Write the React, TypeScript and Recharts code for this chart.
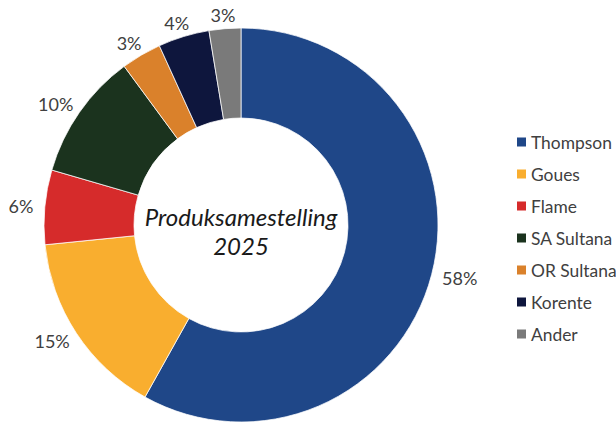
import { PieChart, Pie, Cell } from "recharts";

const cultivars = ["Thompson", "Goues", "Flame", "SA Sultana", "OR Sultana", "Korente", "Ander"];
const shares = [58.1, 15.3, 6.1, 10.4, 3.3, 4.2, 2.6];
const percentLabels = ["58%", "15%", "6%", "10%", "3%", "4%", "3%"];
const colors = ["#1F4788", "#F9AE2F", "#D62B2B", "#1B331E", "#DA812B", "#0E163D", "#7A7A7A"];

const data = cultivars.map((name, i) => ({ name, value: shares[i], label: percentLabels[i] }));

const RADIAN = Math.PI / 180;
const FONT = "Lato, 'Noto Sans', sans-serif";

const renderLabel = (props: any) => {
  const { cx, cy, midAngle, outerRadius, index } = props;
  const text = percentLabels[index];
  const ux = Math.cos(-midAngle * RADIAN);
  const uy = Math.sin(-midAngle * RADIAN);
  const r = outerRadius + 14;
  const w = text.length * 10;
  const x = cx + r * ux + (ux * w) / 2;
  const y = cy + r * uy;
  return (
    <text
      x={x}
      y={y}
      textAnchor="middle"
      dominantBaseline="central"
      fill="#404040"
      fontSize={18}
      fontFamily={FONT}
    >
      {text}
    </text>
  );
};

// legend drawn in the svg, so it is cut by the chart's own right edge
const legendX = 517;
const legendY = 142;
const legendStep = 32;

export default function App() {
  return (
    <div style={{ position: "relative", width: 616, height: 427, overflow: "hidden" }}>
      <style>{`html, body { margin: 0; padding: 0; overflow: hidden; }`}</style>
      <PieChart width={616} height={427} margin={{ top: 0, right: 0, bottom: 0, left: 0 }}>
        <Pie
          data={data}
          dataKey="value"
          nameKey="name"
          cx={241}
          cy={225}
          innerRadius={107}
          outerRadius={197}
          startAngle={90}
          endAngle={-270}
          stroke="#ffffff"
          strokeWidth={0.75}
          label={renderLabel}
          labelLine={false}
          isAnimationActive={false}
        >
          {data.map((d, i) => (
            <Cell key={d.name} fill={colors[i]} />
          ))}
        </Pie>
        <text
          x={241}
          y={226}
          textAnchor="middle"
          fontSize={24}
          fontStyle="italic"
          fontFamily={FONT}
          fill="#1a1a1a"
        >
          Produksamestelling
        </text>
        <text
          x={241}
          y={255}
          textAnchor="middle"
          fontSize={24}
          fontStyle="italic"
          fontFamily={FONT}
          fill="#1a1a1a"
        >
          2025
        </text>
        <g className="legend">
          {cultivars.map((name, i) => (
            <g key={name}>
              <rect x={legendX} y={legendY + i * legendStep - 4.5} width={9} height={9} fill={colors[i]} />
              <text
                x={legendX + 14}
                y={legendY + i * legendStep}
                dominantBaseline="central"
                fontSize={17.4}
                fontFamily={FONT}
                fill="#404040"
              >
                {name}
              </text>
            </g>
          ))}
        </g>
      </PieChart>
    </div>
  );
}
